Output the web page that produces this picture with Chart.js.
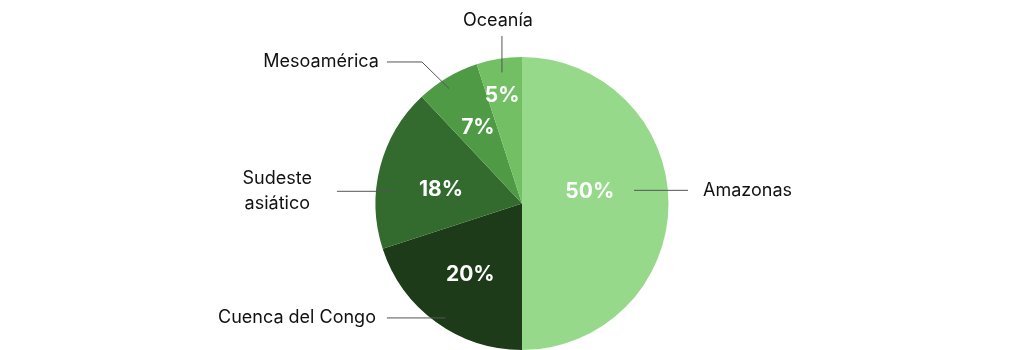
<!DOCTYPE html>
<html>
<head>
<meta charset="utf-8">
<script src="https://cdn.jsdelivr.net/npm/chart.js@4"></script>
<style>
  html, body { margin: 0; padding: 0; background: #fff; }
  #wrap { width: 1024px; height: 350px; position: relative; }
</style>
</head>
<body>
<div id="wrap"><canvas id="pie"></canvas></div>
<script>
const regions = ['Amazonas', 'Cuenca del Congo', 'Sudeste asiático', 'Mesoamérica', 'Oceanía'];
const shares = [50, 20, 18, 7, 5];
const sliceColors = ['#97d98a', '#1d3b19', '#336b2f', '#4f9a45', '#73bf64'];

// posición de los porcentajes (desvío angular en grados, fracción del radio)
const pctPlace = [
  { da: -10, f: 0.47 },
  { da: 0, f: 0.60 },
  { da: -5, f: 0.56 },
  { da: 0.5, f: 0.60 },
  { da: -1.5, f: 0.745 }
];

// líneas guía: punto interior + recorrido hacia fuera (en unidades del radio)
const callouts = [
  { da: -6.7, f: 0.77, pts: [{ dx: 1.133 }], align: 'left', gap: 15, lines: ['Amazonas'] },
  { da: -2.2, f: 0.94, pts: [{ dx: -0.922 }], align: 'right', gap: 11, lines: ['Cuenca del Congo'] },
  { da: -9, f: 0.885, pts: [{ dx: -1.263 }], align: 'center', gap: 25, lines: ['Sudeste', 'asiático'] },
  { da: -1.8, f: 0.93, pts: [{ dx: -0.683, dy: -0.966 }, { dx: -0.922 }], align: 'right', gap: 8, lines: ['Mesoamérica'] },
  { da: 0.3, f: 0.905, pts: [{ dy: -1.143 }], align: 'top', gap: 6, lines: ['Oceanía'] }
];

const rad = d => d * Math.PI / 180;

const calloutPlugin = {
  id: 'callouts',
  afterDatasetsDraw(chart) {
    const ctx = chart.ctx;
    const arcs = chart.getDatasetMeta(0).data;
    ctx.save();
    arcs.forEach((arc, i) => {
      const { x: cx, y: cy, outerRadius: R, startAngle, endAngle } =
        arc.getProps(['x', 'y', 'outerRadius', 'startAngle', 'endAngle'], true);
      const mid = (startAngle + endAngle) / 2;

      // porcentaje
      const p = pctPlace[i];
      const pa = mid + rad(p.da);
      ctx.fillStyle = '#fff';
      ctx.font = '700 21px Inter';
      ctx.textAlign = 'center';
      ctx.textBaseline = 'middle';
      ctx.fillText(shares[i] + '%', cx + Math.cos(pa) * R * p.f, cy + Math.sin(pa) * R * p.f);

      // línea guía
      const c = callouts[i];
      const a = mid + rad(c.da);
      let px = cx + Math.cos(a) * R * c.f;
      let py = cy + Math.sin(a) * R * c.f;
      ctx.strokeStyle = '#555';
      ctx.lineWidth = 1;
      ctx.beginPath();
      ctx.moveTo(px, py);
      c.pts.forEach(pt => {
        if (pt.dx !== undefined) px = cx + pt.dx * R;
        if (pt.dy !== undefined) py = cy + pt.dy * R;
        ctx.lineTo(px, py);
      });
      ctx.stroke();

      // texto
      ctx.fillStyle = '#111';
      ctx.font = '400 18px Inter';
      ctx.textBaseline = 'middle';
      const lh = 25;
      if (c.align === 'top') {
        ctx.textAlign = 'center';
        ctx.fillText(c.lines[0], px - 4, py - c.gap - 9);
      } else if (c.align === 'center') {
        const w = Math.max(...c.lines.map(t => ctx.measureText(t).width));
        ctx.textAlign = 'center';
        c.lines.forEach((t, k) => {
          ctx.fillText(t, px - c.gap - w / 2, py + (k - (c.lines.length - 1) / 2) * lh);
        });
      } else {
        ctx.textAlign = c.align;
        ctx.fillText(c.lines[0], c.align === 'left' ? px + c.gap : px - c.gap, py);
      }
    });
    ctx.restore();
  }
};

new Chart(document.getElementById('pie').getContext('2d'), {
  type: 'pie',
  data: {
    labels: regions,
    datasets: [{
      data: shares,
      backgroundColor: sliceColors,
      borderWidth: 0
    }]
  },
  options: {
    responsive: true,
    maintainAspectRatio: false,
    animation: false,
    layout: { padding: { top: 57, bottom: 0, left: 20, right: 0 } },
    plugins: { legend: { display: false }, tooltip: { enabled: false } }
  },
  plugins: [calloutPlugin]
});
</script>
</body>
</html>
